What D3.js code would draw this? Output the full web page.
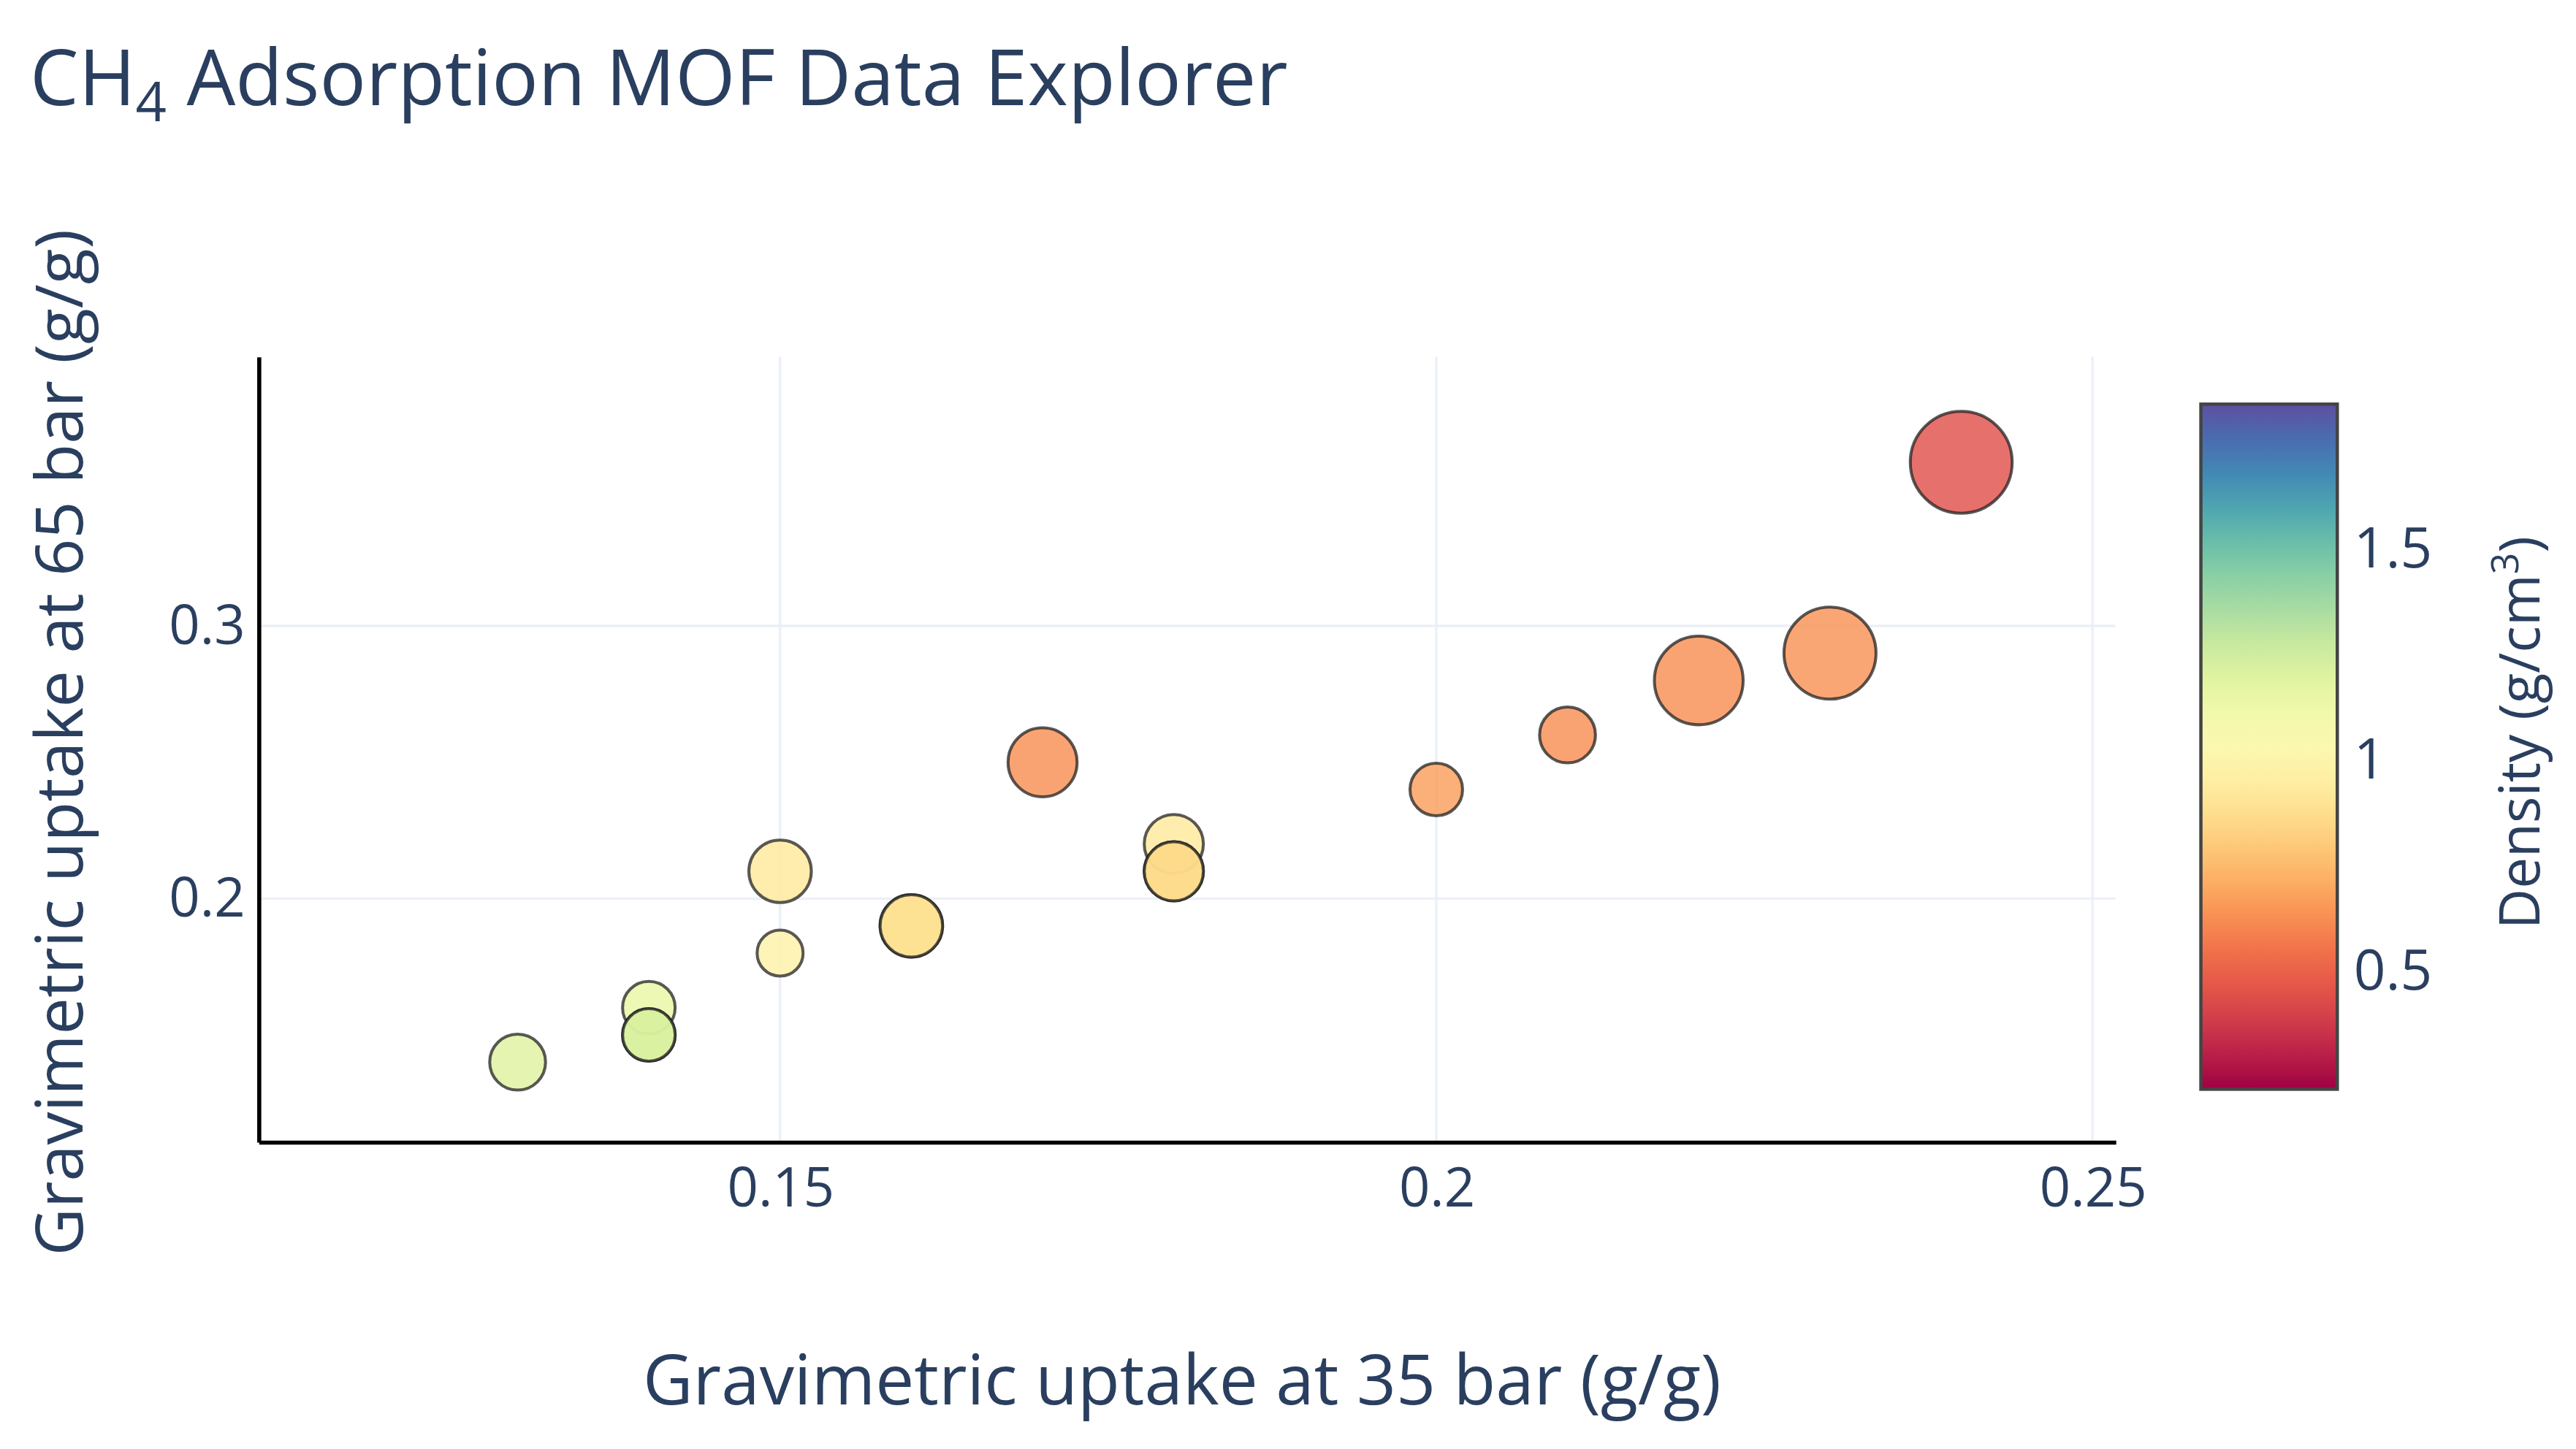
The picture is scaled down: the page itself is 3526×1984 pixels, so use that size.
<!DOCTYPE html>
<html>
<head>
<meta charset="utf-8">
<script src="https://cdn.jsdelivr.net/npm/d3@7"></script>
<style>
  body { margin: 0; background: #fff; }
  text { font-family: "Open Sans", sans-serif; fill: #2a3f5f; }
</style>
</head>
<body>
<div id="chart"></div>
<script>
// Data (duplicates sit on top of each other)
const uptake35 = [0.13, 0.14, 0.14, 0.14, 0.15, 0.15, 0.16, 0.16, 0.17, 0.18, 0.18, 0.18, 0.20, 0.21, 0.22, 0.23, 0.24];
const uptake65 = [0.14, 0.16, 0.15, 0.15, 0.21, 0.18, 0.19, 0.19, 0.25, 0.22, 0.21, 0.21, 0.24, 0.26, 0.28, 0.29, 0.36];
const density  = [1.2, 1.15, 1.22, 1.22, 0.92, 0.97, 0.88, 0.88, 0.63, 0.92, 0.86, 0.86, 0.67, 0.63, 0.63, 0.64, 0.45];
const markerSz = [17, 16, 16, 16, 19, 14, 19, 19, 21, 18, 18, 18, 16, 17, 27, 28, 31];
const xTicks = [0.15, 0.2, 0.25];
const yTicks = [0.2, 0.3];
const cbTicks = [0.5, 1, 1.5];

const W = 1567, H = 882;
const svg = d3.select('#chart').append('svg')
  .attr('width', 3526).attr('height', 1984)
  .attr('viewBox', `0 0 ${W} ${H}`);

const plot = { left: 157, right: 1287, top: 217, bottom: 695 };
const x = d3.scaleLinear().domain([0.11025, 0.25175]).range([plot.left, plot.right]);
const y = d3.scaleLinear().domain([0.1108, 0.3988]).range([plot.bottom, plot.top]);
const color = d3.scaleSequential(d3.interpolateSpectral).domain([0.22, 1.842]);

// grid
svg.append('g').selectAll('line').data(xTicks).join('line')
  .attr('x1', d => x(d)).attr('x2', d => x(d))
  .attr('y1', plot.top).attr('y2', plot.bottom)
  .attr('stroke', '#ebf0f8').attr('stroke-width', 1.5);
svg.append('g').selectAll('line').data(yTicks).join('line')
  .attr('y1', d => y(d)).attr('y2', d => y(d))
  .attr('x1', plot.left).attr('x2', plot.right)
  .attr('stroke', '#ebf0f8').attr('stroke-width', 1.5);

// axes
const xAxis = svg.append('g').attr('transform', `translate(0,${plot.bottom})`)
  .call(d3.axisBottom(x).tickValues(xTicks).tickSize(0).tickPadding(16).tickFormat(d3.format('')));
const yAxis = svg.append('g').attr('transform', `translate(${plot.left},0)`)
  .call(d3.axisLeft(y).tickValues(yTicks).tickSize(0).tickPadding(8).tickFormat(d3.format('')));
[xAxis, yAxis].forEach(a => {
  a.select('.domain').attr('stroke', '#000').attr('stroke-width', 2.5);
  a.selectAll('text').style('font-size', '33px').style('font-family', '"Open Sans", sans-serif').attr('fill', '#2a3f5f');
});

// markers
const idx = d3.range(uptake35.length);
svg.append('g').selectAll('circle').data(idx).join('circle')
  .attr('cx', i => x(uptake35[i])).attr('cy', i => y(uptake65[i]))
  .attr('r', i => markerSz[i])
  .attr('fill', i => color(density[i])).attr('fill-opacity', 0.82)
  .attr('stroke', '#222').attr('stroke-opacity', 0.75).attr('stroke-width', 1.8);

// colorbar
const cb = { x: 1339, w: 83, top: 246, bottom: 663 };
const cbY = d3.scaleLinear().domain(color.domain()).range([cb.bottom, cb.top]);
const defs = svg.append('defs');
const grad = defs.append('linearGradient').attr('id', 'cbgrad')
  .attr('x1', 0).attr('x2', 0).attr('y1', 1).attr('y2', 0);
grad.selectAll('stop').data(d3.range(0, 1.001, 0.05)).join('stop')
  .attr('offset', d => d)
  .attr('stop-color', d => color(color.domain()[0] + d * (color.domain()[1] - color.domain()[0])));
svg.append('rect').attr('x', cb.x).attr('y', cb.top)
  .attr('width', cb.w).attr('height', cb.bottom - cb.top)
  .attr('fill', 'url(#cbgrad)').attr('stroke', '#444').attr('stroke-width', 2);
const cbAxis = svg.append('g').attr('transform', `translate(${cb.x + cb.w},0)`)
  .call(d3.axisRight(cbY).tickValues(cbTicks).tickSize(0).tickPadding(10).tickFormat(d3.format('')));
cbAxis.select('.domain').remove();
cbAxis.selectAll('text').style('font-size', '34px').style('font-family', '"Open Sans", sans-serif').attr('fill', '#2a3f5f');

// titles
const title = svg.append('text').attr('x', 18).attr('y', 64).style('font-size', '47px');
title.append('tspan').text('CH');
title.append('tspan').text('4').attr('dy', 10).style('font-size', '33px');
title.append('tspan').text(' Adsorption MOF Data Explorer').attr('dy', -10);

svg.append('text').attr('x', 719).attr('y', 855)
  .attr('text-anchor', 'middle').style('font-size', '42px')
  .text('Gravimetric uptake at 35 bar (g/g)');

svg.append('text').attr('transform', 'translate(50,452) rotate(-90)')
  .attr('text-anchor', 'middle').style('font-size', '40px')
  .text('Gravimetric uptake at 65 bar (g/g)');

const cbt = svg.append('text').attr('transform', 'translate(1545,446) rotate(-90)')
  .attr('text-anchor', 'middle').style('font-size', '34px');
cbt.append('tspan').text('Density (g/cm');
cbt.append('tspan').text('3').attr('dy', -13).style('font-size', '23px');
cbt.append('tspan').text(')').attr('dy', 13);
</script>
</body>
</html>
